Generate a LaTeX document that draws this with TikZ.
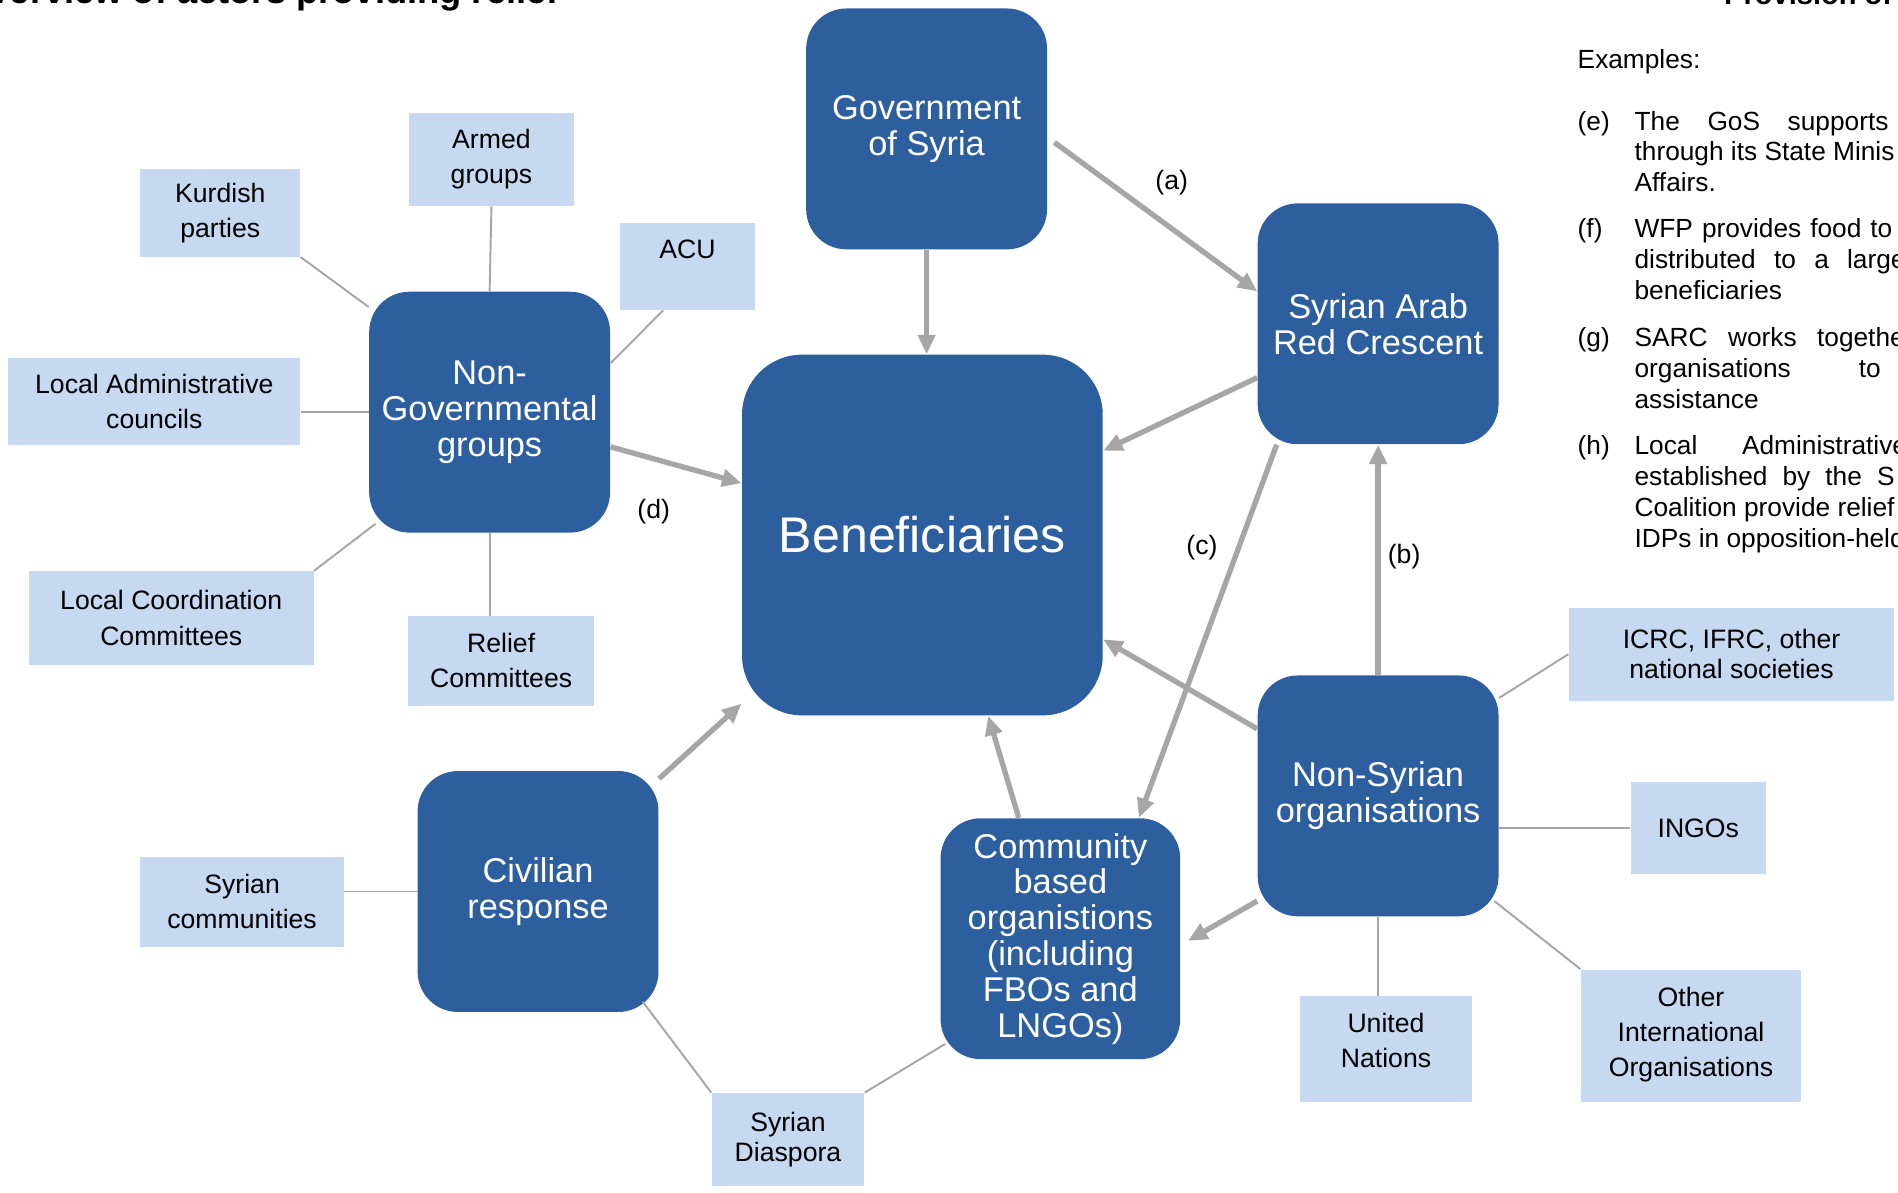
\documentclass[tikz,border=0pt]{standalone}
\usepackage{fontspec}
\setmainfont{Liberation Sans}
\usetikzlibrary{arrows.meta,calc}
\definecolor{BoxBlue}{RGB}{45,95,159}
\definecolor{PaleBlue}{RGB}{198,217,241}
\definecolor{LinkGray}{RGB}{166,166,166}
\tikzset{
  actor/.style={fill=BoxBlue,text=white,rounded corners=16.6pt,inner sep=0pt,
    minimum width=99.5pt,minimum height=99.5pt,align=center,
    font=\fontsize{14.2}{14.8}\selectfont},
  member/.style={fill=PaleBlue,inner sep=0pt,align=center,
    font=\fontsize{11}{14.5}\selectfont},
  tight/.style={font=\fontsize{11}{12.5}\selectfont},
  flow/.style={draw=LinkGray,line width=2.2pt,-{Triangle[length=8pt,width=7pt]}},
  link/.style={draw=LinkGray,line width=0.8pt},
  tag/.style={inner sep=0pt,font=\fontsize{11}{13}\selectfont},
  note/.style={anchor=base west,inner sep=0pt,font=\fontsize{10.85}{12.75}\selectfont},
  heading/.style={inner sep=0pt,font=\bfseries\fontsize{12}{14}\selectfont},
}
\newcommand{\jline}[2]{\makebox[#1][s]{#2}}

\begin{document}
\begin{tikzpicture}[x=0.5pt,y=-0.5pt]
    \useasboundingbox (0,0) rectangle (1568,985);
    \clip (0,0) rectangle (1568,985);
    % main actors
    \node[actor] (gos) at (765.5,106.5) {Government\\of Syria};
    \node[actor,minimum width=149pt,minimum height=149pt,rounded corners=24.8pt,
      font=\fontsize{20.7}{24}\selectfont] (ben) at (762,442) {Beneficiaries};
    \node[actor] (sarc) at (1138.5,267.5) {Syrian Arab\\Red Crescent};
    \node[actor] (ngg) at (404.5,340.5) {Non-\\Governmental\\groups};
    \node[actor] (civ) at (444.5,736.5) {Civilian\\response};
    \node[actor,minimum width=99pt] (cbo) at (876,775.5)
      {Community\\based\\organistions\\(including\\FBOs and\\LNGOs)};
    \node[actor] (nso) at (1138.5,657.5) {Non-Syrian\\organisations};
    % members
    \node[member,minimum width=68pt,minimum height=38.5pt] (armed) at (406,131.5) {Armed\\groups};
    \node[member,minimum width=66pt,minimum height=36pt] (kurd) at (182,176) {Kurdish\\parties};
    \node[member,minimum width=56pt,minimum height=36pt] (acu) at (568,220) {ACU\\\mbox{}};
    \node[member,minimum width=120.5pt,minimum height=36pt] (lac) at (127.5,332) {Local Administrative\\councils};
    \node[member,minimum width=117.5pt,minimum height=38.5pt] (lcc) at (141.5,510.5) {Local Coordination\\Committees};
    \node[member,minimum width=77pt,minimum height=37pt] (relief) at (414,546) {Relief\\Committees};
    \node[member,minimum width=84pt,minimum height=37pt] (syc) at (200,745) {Syrian\\communities};
    \node[member,tight,minimum width=63pt,minimum height=38.5pt] (dias) at (651,941.5) {Syrian\\Diaspora};
    \node[member,tight,minimum width=134.5pt,minimum height=38.5pt] (icrc) at (1430.5,540.5) {ICRC, IFRC, other\\national societies};
    \node[member,minimum width=56pt,minimum height=38pt] (ingo) at (1403,684) {INGOs};
    \node[member,minimum width=71pt,minimum height=43.5pt,text depth=7pt] (un) at (1145,866.5) {United\\Nations};
    \node[member,minimum width=91pt,minimum height=54.5pt,text depth=3pt] (other) at (1397,855.5) {Other\\International\\Organisations};
    % flows between actors
    \draw[flow,shorten <=3.5pt] (gos.356) -- (sarc.165);
    \draw[flow] (gos.south) -- (gos.south |- ben.north);
    \draw[flow] (sarc.204) -- (ben.25);
    \draw[flow] (sarc.230) -- (cbo.57);
    \draw[flow] (nso.north) -- (sarc.south);
    \draw[flow] (nso.151) -- (ben.330);
    \draw[flow,shorten >=3.5pt] (nso.221) -- (cbo.357);
    \draw[flow] (cbo.109) -- (ben.290);
    \draw[flow] (civ.43) -- (ben.223);
    \draw[flow] (ngg.344) -- (ben.164);
    \node[tag] (la) at (968,151) {(a)};
    \node[tag] (lb) at (1160,460) {(b)};
    \node[tag] (lc) at (993,452) {(c)};
    \node[tag] (ld) at (540,423) {(d)};
    % links to members
    \draw[link] (kurd.south east) -- (ngg.139);
    \draw[link] (armed.south) -- (ngg.north);
    \draw[link] (acu.241) -- (ngg.22);
    \draw[link] (lac.east |- ngg.west) -- (ngg.west);
    \draw[link,shorten >=-3.5pt] (lcc.north east) -- (ngg.224);
    \draw[link] (ngg.south) -- (ngg.south |- relief.north);
    \draw[link] (syc.east |- civ.west) -- (civ.west);
    \draw[link,shorten <=-5.5pt] (civ.313) -- (dias.north west);
    \draw[link,shorten >=-2.5pt] (dias.north east) -- (cbo.222);
    \draw[link] (nso.39) -- (icrc.west);
    \draw[link] (nso.east |- ingo.west) -- (ingo.west);
    \draw[link] (nso.south) -- (nso.south |- un.north);
    \draw[link,shorten <=-2.5pt] (nso.318) -- (other.north west);
    % headings, cut by the page edge
    \node[heading,font=\bfseries\fontsize{15}{17}\selectfont,anchor=base east] (ttl) at (462,3) {Overview of actors providing relief};
    \node[heading,anchor=base west] (ttr) at (1424,4) {Provision of};
    % examples
    \node[note] (ex) at (1303,57) {Examples:};
    \node[note] (ke) at (1303,107.5) {(e)};
    \node[note] (e1) at (1350,107.5) {\jline{63.25pt}{The GoS \rlap{supports}}};
    \node[note] (e2) at (1350,133) {through its State Minis};
    \node[note] (e3) at (1350,158.5) {Affairs.};
    \node[note] (kf) at (1303,196.5) {(f)};
    \node[note] (f1) at (1350,196.5) {\jline{97.4pt}{WFP provides food \rlap{to}}};
    \node[note] (f2) at (1350,222) {\jline{87.8pt}{distributed to a \rlap{large}}};
    \node[note] (f3) at (1350,247.5) {beneficiaries};
    \node[note] (kg) at (1303,286.5) {(g)};
    \node[note] (g1) at (1350,286.5) {\jline{75.4pt}{SARC works \rlap{together}}};
    \node[note] (g2) at (1350,312) {\jline{92.6pt}{organisations \rlap{to}}};
    \node[note] (g3) at (1350,337.5) {assistance};
    \node[note] (kh) at (1303,375.5) {(h)};
    \node[note] (h1) at (1350,375.5) {\jline{44.4pt}{Local \rlap{Administrative}}};
    \node[note] (h2) at (1350,401) {\jline{100.15pt}{established by the \rlap{S}}};
    \node[note] (h3) at (1350,426.5) {Coalition provide relief};
    \node[note] (h4) at (1350,452) {IDPs in opposition-held};
\end{tikzpicture}
\end{document}
